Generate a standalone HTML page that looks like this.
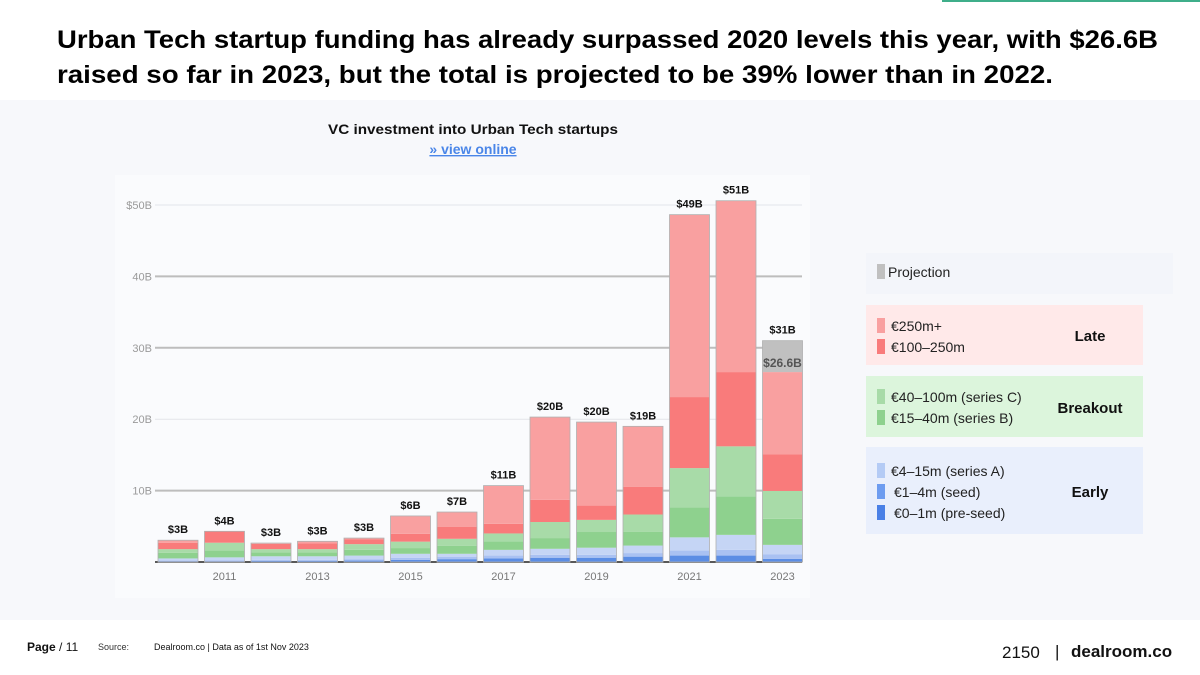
<!DOCTYPE html>
<html><head><meta charset="utf-8"><style>
html,body{margin:0;padding:0;background:#fff;}
svg{display:block;font-family:"Liberation Sans",sans-serif;}
</style></head><body>
<svg id="chart" width="1200" height="675" viewBox="0 0 1200 675">
  <rect x="0" y="0" width="1200" height="675" fill="#ffffff"/>
  <rect x="0" y="100" width="1200" height="520" fill="#f7f8fb"/>
  <rect x="942" y="0" width="258" height="2" fill="#3fae8a"/>
  <rect x="115" y="175" width="695" height="423" fill="#fafbfd"/>
  <text x="57" y="48" font-size="25" font-weight="bold" fill="#000" textLength="1101" lengthAdjust="spacingAndGlyphs">Urban Tech startup funding has already surpassed 2020 levels this year, with $26.6B</text>
  <text x="57" y="83" font-size="25" font-weight="bold" fill="#000" textLength="996" lengthAdjust="spacingAndGlyphs">raised so far in 2023, but the total is projected to be 39% lower than in 2022.</text>
  <text x="473" y="134" font-size="14" font-weight="bold" text-anchor="middle" fill="#111" textLength="290" lengthAdjust="spacingAndGlyphs">VC investment into Urban Tech startups</text>
  <text x="473" y="154" font-size="14" font-weight="bold" text-anchor="middle" fill="#4a86e8" text-decoration="underline">» view online</text>
  <g id="grid"></g>
  <g id="bars"></g>
  <g id="labels"></g>

  <g font-size="14" fill="#222">
    <rect x="866" y="253" width="307" height="41" fill="#f3f5fa"/>
    <rect x="877" y="264" width="8" height="15" fill="#c0c0c0"/>
    <text x="888" y="277">Projection</text>
    <rect x="866" y="305" width="277" height="60" fill="#ffe9e9"/>
    <rect x="877" y="318" width="8" height="15" fill="#f9a0a0"/>
    <text x="891" y="331">€250m+</text>
    <rect x="877" y="339" width="8" height="15" fill="#f97b7b"/>
    <text x="891" y="352">€100–250m</text>
    <text x="1090" y="341" font-weight="bold" font-size="15" text-anchor="middle" fill="#111">Late</text>
    <rect x="866" y="376" width="277" height="61" fill="#dcf5dc"/>
    <rect x="877" y="389" width="8" height="15" fill="#a8dba8"/>
    <text x="891" y="402">€40–100m (series C)</text>
    <rect x="877" y="410" width="8" height="15" fill="#8ed18e"/>
    <text x="891" y="423">€15–40m (series B)</text>
    <text x="1090" y="413" font-weight="bold" font-size="15" text-anchor="middle" fill="#111">Breakout</text>
    <rect x="866" y="447" width="277" height="87" fill="#e9effc"/>
    <rect x="877" y="463" width="8" height="15" fill="#b4cbf5"/>
    <text x="891" y="476">€4–15m (series A)</text>
    <rect x="877" y="484" width="8" height="15" fill="#6d9cf0"/>
    <text x="894" y="497">€1–4m (seed)</text>
    <rect x="877" y="505" width="8" height="15" fill="#4a80e6"/>
    <text x="894" y="518">€0–1m (pre-seed)</text>
    <text x="1090" y="497" font-weight="bold" font-size="15" text-anchor="middle" fill="#111">Early</text>
  </g>

  <g>
    <text x="27" y="651" font-size="12" fill="#111"><tspan font-weight="bold">Page</tspan> / 11</text>
    <text x="98" y="650" font-size="9" fill="#333">Source:</text>
    <text x="154" y="650" font-size="9" fill="#111">Dealroom.co  |  Data as of 1st Nov 2023</text>
    <text x="1002" y="658" font-size="17" fill="#111">2150</text>
    <text x="1055" y="657" font-size="17" fill="#111">|</text>
    <text x="1071" y="657" font-size="17" font-weight="bold" fill="#111">dealroom.co</text>
  </g>
</svg>
<script>
const years = [2010,2011,2012,2013,2014,2015,2016,2017,2018,2019,2020,2021,2022,2023];
const preSeed = [0.1,0.1,0.15,0.15,0.2,0.3,0.4,0.5,0.6,0.6,0.75,0.9,0.9,0.45];
const seed = [0.1,0.15,0.15,0.15,0.2,0.3,0.3,0.4,0.4,0.4,0.5,0.7,0.8,0.6];
const seriesA = [0.3,0.4,0.5,0.5,0.5,0.55,0.45,0.8,0.85,1.0,1.05,1.85,2.1,1.35];
const seriesB = [0.8,0.95,0.55,0.55,0.8,0.8,1.1,1.2,1.5,2.2,1.95,4.2,5.4,3.65];
const seriesC = [0.5,1.1,0.45,0.45,0.8,0.9,1.0,1.1,2.25,1.7,2.4,5.5,7.0,3.9];
const late100 = [0.9,1.6,0.75,0.8,0.7,1.1,1.7,1.35,3.1,2.0,3.9,9.95,10.4,5.15];
const late250 = [0.35,0.0,0.1,0.3,0.15,2.5,2.05,5.35,11.6,11.7,8.45,25.55,24.0,11.5];
const projection = [0,0,0,0,0,0,0,0,0,0,0,0,0,4.4];
const totalLabels = ["$3B","$4B","$3B","$3B","$3B","$6B","$7B","$11B","$20B","$20B","$19B","$49B","$51B","$31B"];
const yTicks = [10,20,30,40,50];
const yTickLabels = ["10B","20B","30B","40B","$50B"];
const xTickYears = [2011,2013,2015,2017,2019,2021,2023];
const actualLabel2023 = "$26.6B";

const NS = "http://www.w3.org/2000/svg";
const y0 = 562, pxPerB = 7.14;
const yScale = v => y0 - v * pxPerB;
const xStart = 178, step = 46.5, barW = 40;
const xScale = yr => xStart + (yr - years[0]) * step;
function mk(tag, attrs, parent){const e=document.createElementNS(NS,tag);for(const k in attrs)e.setAttribute(k,attrs[k]);parent.appendChild(e);return e;}
const grid=document.getElementById('grid'),bars=document.getElementById('bars'),labels=document.getElementById('labels');

yTicks.forEach((t,i)=>{
  const y=yScale(t);
  const light=(t===20||t===50);
  const l=mk('line',{x1:155,x2:802,y1:y,y2:y,stroke:light?'#e3e5ea':'#bdbdbd','stroke-width':light?1:2},grid);
  
  
  const tx=mk('text',{x:152,y:y+4,'font-size':11,fill:'#9a9a9a','text-anchor':'end'},grid);
  tx.textContent=yTickLabels[i];
  
  
});
xTickYears.forEach(yr=>{
  const tx=mk('text',{x:xScale(yr),y:580,'font-size':11,fill:'#777','text-anchor':'middle'},grid);
  tx.textContent=String(yr);
  
  
});

const series=[
  {name:'pre-seed',vals:preSeed,c:'#5b8de4'},
  {name:'seed',vals:seed,c:'#a9c1f2'},
  {name:'series-a',vals:seriesA,c:'#c5d5f5'},
  {name:'series-b',vals:seriesB,c:'#8ed18e'},
  {name:'series-c',vals:seriesC,c:'#a8dba8'},
  {name:'late-100-250m',vals:late100,c:'#f97b7b'},
  {name:'late-250m-plus',vals:late250,c:'#f9a0a0'},
  {name:'projection',vals:projection,c:'#c0c0c0'}
];
years.forEach((yr,i)=>{
  let cum=0;const x=xScale(yr)-barW/2;
  series.forEach(s=>{
    const v=s.vals[i]; if(v<=0)return;
    const r=mk('rect',{x:x,y:yScale(cum+v),width:barW,height:v*pxPerB,fill:s.c},bars);
    
    
    cum+=v;
  });
  const o=mk('rect',{x:x,y:yScale(cum),width:barW,height:cum*pxPerB,fill:'none',stroke:'#b0b0b0','stroke-width':0.8},bars);
  
  
  const t=mk('text',{x:xScale(yr),y:yScale(cum)-7,'font-size':11,'font-weight':'bold',fill:'#111','text-anchor':'middle'},labels);
  t.textContent=totalLabels[i];
  
  
  if(projection[i]>0){
    const t2=mk('text',{x:xScale(yr),y:yScale(cum-projection[i])-5,'font-size':12,'font-weight':'bold',fill:'#555','text-anchor':'middle'},labels);
    t2.textContent=actualLabel2023;
    
    
  }
});
const base=mk('line',{x1:155,x2:802,y1:y0,y2:y0,stroke:'#222','stroke-width':1.5},grid);


</script>
</body></html>
